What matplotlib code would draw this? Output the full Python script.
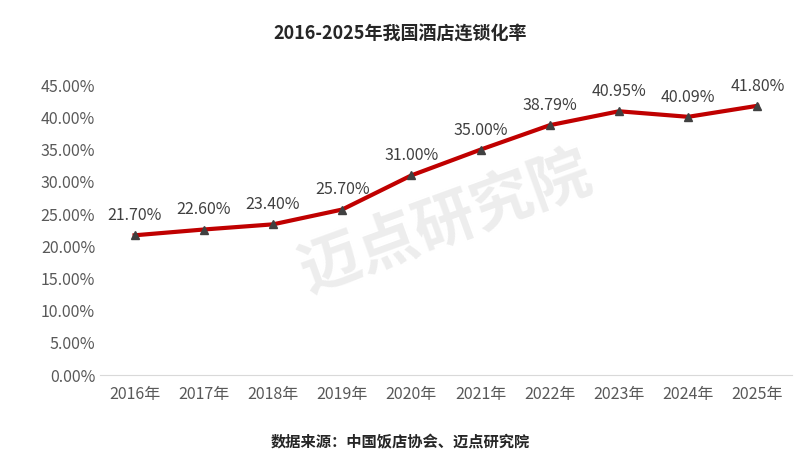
import matplotlib
matplotlib.use("Agg")
import matplotlib.pyplot as plt
from matplotlib.ticker import FuncFormatter

plt.rcParams['font.family'] = ['Noto Sans CJK SC', 'DejaVu Sans']

years = ['2016年','2017年','2018年','2019年','2020年','2021年','2022年','2023年','2024年','2025年']
rates = [21.70, 22.60, 23.40, 25.70, 31.00, 35.00, 38.79, 40.95, 40.09, 41.80]
yticks = [0,5,10,15,20,25,30,35,40,45]

fig = plt.figure(figsize=(8, 4.58), dpi=100)
ax = fig.add_axes([0.125, 0.181, 0.865, 0.633])
x = list(range(len(years)))
ax.plot(x, rates, color='#C00000', lw=3, zorder=2)
ax.plot(x, rates, ls='none', marker='^', ms=6, color='#404040', zorder=3)
for xi, v in zip(x, rates):
    ax.annotate(f'{v:.2f}%', (xi, v), xytext=(0, 8), textcoords='offset points',
                ha='center', va='bottom', fontsize=11.5, color='#404040')
ax.set_xlim(-0.5, len(years)-0.5)
ax.set_ylim(0, 45)
ax.set_yticks(yticks)
ax.yaxis.set_major_formatter(FuncFormatter(lambda v, p: f'{v:.2f}%'))
ax.set_xticks(x)
ax.set_xticklabels(years)
ax.tick_params(axis='both', labelsize=11.5, colors='#595959', length=0)
ax.tick_params(axis='x', pad=8)
for s in ['top', 'right', 'left']:
    ax.spines[s].set_visible(False)
ax.spines['bottom'].set_color('#D9D9D9')
ax.text(0.5, 0.52, '迈点研究院', transform=ax.transAxes, fontsize=44, color='#EDEDED',
        rotation=20, ha='center', va='center', zorder=0, fontweight='bold')
fig.text(0.5, 0.925, '2016-2025年我国酒店连锁化率', ha='center', va='center',
         fontsize=13, fontweight='bold', color='#262626')
fig.text(0.5, 0.033, '数据来源：中国饭店协会、迈点研究院', ha='center', va='center',
         fontsize=11, fontweight='bold', color='#262626')
fig.savefig('out.png', dpi=100)
